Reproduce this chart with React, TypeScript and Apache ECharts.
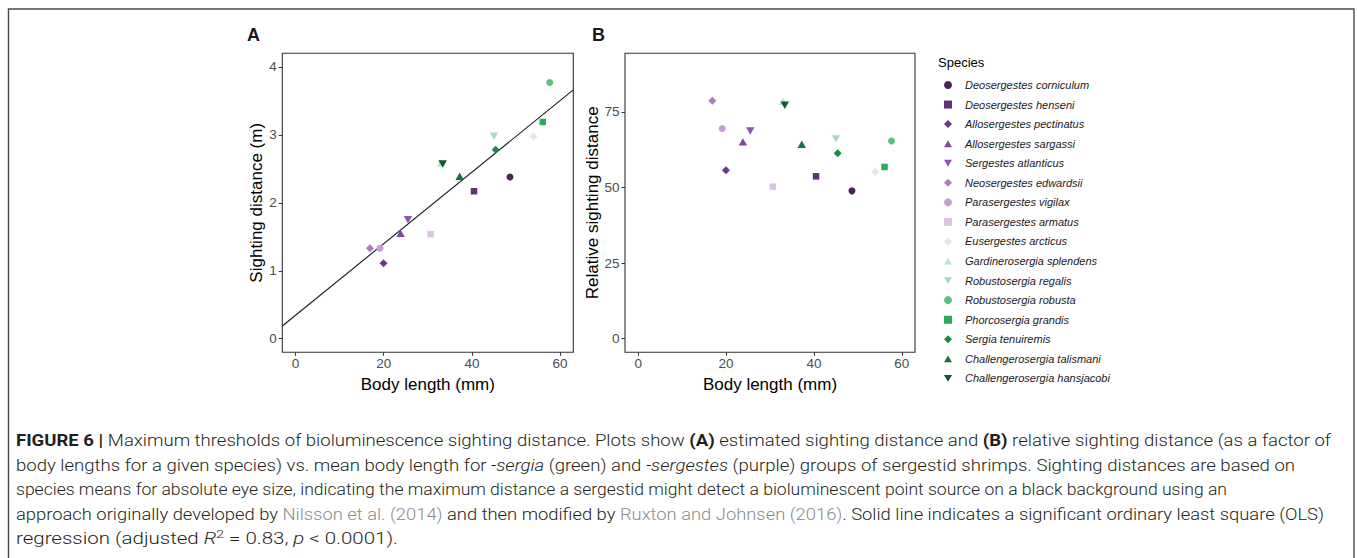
import React, { useEffect, useRef } from "react";
import * as echarts from "echarts";

// ---------- data ----------
const species = [
  "Deosergestes corniculum",
  "Deosergestes henseni",
  "Allosergestes pectinatus",
  "Allosergestes sargassi",
  "Sergestes atlanticus",
  "Neosergestes edwardsii",
  "Parasergestes vigilax",
  "Parasergestes armatus",
  "Eusergestes arcticus",
  "Gardinerosergia splendens",
  "Robustosergia regalis",
  "Robustosergia robusta",
  "Phorcosergia grandis",
  "Sergia tenuiremis",
  "Challengerosergia talismani",
  "Challengerosergia hansjacobi",
];
const bodyLength = [48.65, 40.48, 19.97, 23.83, 25.5, 16.87, 19.14, 30.64, 54.0, 32.99, 45.0, 57.65, 56.07, 45.4, 37.23, 33.37];
const sightingDistance = [2.38, 2.17, 1.11, 1.55, 1.75, 1.33, 1.33, 1.54, 2.98, 2.59, 2.98, 3.77, 3.19, 2.78, 2.39, 2.57];
const relativeDistance = [48.9, 53.7, 55.7, 65.1, 68.7, 78.7, 69.5, 50.3, 55.2, 78.5, 66.1, 65.4, 56.8, 61.3, 64.3, 77.2];
const speciesColors = [
  "#4a2359", "#5e3273", "#6d3889", "#8048a3", "#8d57ad", "#ab7dbf", "#c59fcf", "#dcc5e3",
  "#ede1f0", "#bde5c9", "#a9dbb9", "#5cbf82", "#27ad5f", "#1d8a48", "#1a723e", "#12592e",
];
const speciesShapes = [
  "circle", "square", "diamond", "up", "down", "diamond", "circle", "square",
  "diamond", "up", "down", "circle", "square", "diamond", "up", "down",
];
const xTicks = [0, 20, 40, 60];
const yTicksA = [0, 1, 2, 3, 4];
const yTicksB = [0, 25, 50, 75];

const captionLines = [
  [
    { t: "FIGURE 6 | ", b: true },
    { t: "Maximum thresholds of bioluminescence sighting distance. Plots show " },
    { t: "(A)", b: true },
    { t: " estimated sighting distance and " },
    { t: "(B)", b: true },
    { t: " relative sighting distance (as a factor of" },
  ],
  [
    { t: "body lengths for a given species) vs. mean body length for " },
    { t: "-sergia", i: true },
    { t: " (green) and " },
    { t: "-sergestes", i: true },
    { t: " (purple) groups of sergestid shrimps. Sighting distances are based on" },
  ],
  [
    { t: "species means for absolute eye size, indicating the maximum distance a sergestid might detect a bioluminescent point source on a black background using an" },
  ],
  [
    { t: "approach originally developed by " },
    { t: "Nilsson et al. (2014)", g: true },
    { t: " and then modified by " },
    { t: "Ruxton and Johnsen (2016)", g: true },
    { t: ". Solid line indicates a significant ordinary least square (OLS)" },
  ],
  [
    { t: "regression (adjusted " },
    { t: "R", i: true },
    { t: "2", sup: true },
    { t: " = 0.83, " },
    { t: "p", i: true },
    { t: " < 0.0001)." },
  ],
];

// ---------- layout ----------
const W = 1357;
const H = 558;
const FONT = "Liberation Sans, Arial, Helvetica, sans-serif";
const gridA = { left: 282.3, top: 53.3, width: 291, height: 299 };
const gridB = { left: 625, top: 53.3, width: 290, height: 299 };
const captionX = 16;
const captionBaselines = [446, 470.5, 495, 519.5, 544];
const captionRight = [1331, 1295, 1227, 1324, 398];

const DOWN_TRI = "path://M0,0L2,0L1,1.732Z";
const UP_TRI = "path://M1,0L2,1.732L0,1.732Z";

function symbolOf(s: string) {
  if (s === "circle") return "circle";
  if (s === "square") return "rect";
  if (s === "diamond") return "diamond";
  if (s === "up") return UP_TRI;
  return DOWN_TRI;
}
function sizeOf(s: string): any {
  if (s === "circle") return 7;
  if (s === "square") return 6.5;
  if (s === "diamond") return 8;
  return [8.5, 7.4];
}

function ols(xs: number[], ys: number[]) {
  const n = xs.length;
  const mx = xs.reduce((a, b) => a + b, 0) / n;
  const my = ys.reduce((a, b) => a + b, 0) / n;
  let sxy = 0;
  let sxx = 0;
  for (let i = 0; i < n; i++) {
    sxy += (xs[i] - mx) * (ys[i] - my);
    sxx += (xs[i] - mx) * (xs[i] - mx);
  }
  const slope = sxy / sxx;
  return { slope, intercept: my - slope * mx };
}

function makeX(gridIndex: number) {
  return {
    type: "value",
    gridIndex,
    min: -3,
    max: 63,
    axisLine: { show: false, onZero: false },
    axisTick: { show: true, length: 3.5, lineStyle: { color: "#333333", width: 1 }, customValues: xTicks },
    axisLabel: { customValues: xTicks, color: "#4d4d4d", fontSize: 13.5, margin: 4.5, fontFamily: FONT },
    splitLine: { show: false },
    name: "Body length (mm)",
    nameLocation: "middle",
    nameGap: 19.5,
    nameTextStyle: { fontSize: 17, color: "#000000", fontFamily: FONT },
  };
}
function makeY(gridIndex: number, min: number, max: number, ticks: number[], name: string, nameGap: number) {
  return {
    type: "value",
    gridIndex,
    min,
    max,
    axisLine: { show: false, onZero: false },
    axisTick: { show: true, length: 3.5, lineStyle: { color: "#333333", width: 1 }, customValues: ticks },
    axisLabel: { customValues: ticks, color: "#4d4d4d", fontSize: 13.5, margin: 5.5, fontFamily: FONT },
    splitLine: { show: false },
    name,
    nameLocation: "middle",
    nameGap,
    nameTextStyle: { fontSize: 17, color: "#000000", fontFamily: FONT },
  };
}

export default function App() {
  const ref = useRef<HTMLDivElement>(null);

  useEffect(() => {
    if (!ref.current) return;
    const chart = echarts.init(ref.current, undefined, { renderer: "svg" });
    const fit = ols(bodyLength, sightingDistance);
    const series: any[] = [
      {
        type: "line",
        name: "OLS",
        xAxisIndex: 0,
        yAxisIndex: 0,
        data: [
          [-3, fit.intercept + fit.slope * -3],
          [63, fit.intercept + fit.slope * 63],
        ],
        showSymbol: false,
        symbol: "none",
        lineStyle: { color: "#1a1a1a", width: 1.1 },
        clip: true,
        silent: true,
        z: 1,
      },
    ];
    species.forEach((name, i) => {
      const common = {
        type: "scatter",
        name,
        symbol: symbolOf(speciesShapes[i]),
        symbolSize: sizeOf(speciesShapes[i]),
        itemStyle: { color: speciesColors[i], opacity: 1 },
        z: 3,
      };
      series.push({ ...common, xAxisIndex: 0, yAxisIndex: 0, data: [[bodyLength[i], sightingDistance[i]]] });
      series.push({ ...common, xAxisIndex: 1, yAxisIndex: 1, data: [[bodyLength[i], relativeDistance[i]]] });
    });

    chart.setOption({
      animation: false,
      backgroundColor: "#ffffff",
      textStyle: { fontFamily: FONT },
      grid: [
        { ...gridA, show: true, borderColor: "#333333", borderWidth: 1.1, backgroundColor: "transparent", containLabel: false },
        { ...gridB, show: true, borderColor: "#333333", borderWidth: 1.1, backgroundColor: "transparent", containLabel: false },
      ],
      xAxis: [makeX(0), makeX(1)],
      yAxis: [
        makeY(0, -0.2, 4.2, yTicksA, "Sighting distance (m)", 15.5),
        makeY(1, -4.5, 94.4, yTicksB, "Relative sighting distance", 21),
      ],
      legend: {
        orient: "vertical",
        left: 944,
        top: 79,
        padding: 0,
        itemWidth: 8,
        itemHeight: 8,
        itemGap: 7.56,
        selectedMode: false,
        data: species.map((name, i) => ({ name, icon: symbolOf(speciesShapes[i]), itemStyle: { color: speciesColors[i] } })),
        textStyle: {
          fontSize: 11,
          lineHeight: 12,
          fontStyle: "italic",
          color: "#1a1a1a",
          fontFamily: FONT,
          padding: [0, 0, 0, 8],
        },
      },
      graphic: [
        { type: "text", left: 247, top: 26, style: { text: "A", font: `bold 18px ${FONT}`, fill: "#1a1a1a" } },
        { type: "text", left: 592, top: 26, style: { text: "B", font: `bold 18px ${FONT}`, fill: "#1a1a1a" } },
        { type: "text", left: 938, top: 56, style: { text: "Species", font: `13px ${FONT}`, fill: "#000000" } },
      ],
      series,
    });
    return () => chart.dispose();
  }, []);

  return (
    <div style={{ position: "absolute", left: 0, top: 0, width: W, height: H, background: "#fff" }}>
      <div ref={ref} style={{ position: "absolute", left: 0, top: 0, width: W, height: H }} />
      <svg
        width={W}
        height={H}
        style={{ position: "absolute", left: 0, top: 0, pointerEvents: "none" }}
      >
        <polyline points={`8.5,${H} 8.5,9 1354,9 1354,${H}`} fill="none" stroke="#4a4a4a" strokeWidth={1.4} />
        {captionLines.map((segs, li) => (
          <text
            key={li}
            x={captionX}
            y={captionBaselines[li]}
            textLength={captionRight[li] - captionX}
            lengthAdjust="spacingAndGlyphs"
            fontFamily="Roboto, Liberation Sans, sans-serif"
            fontSize={16}
            fontWeight={300}
            fill="#231f20"
            style={{ whiteSpace: "pre" }}
          >
            {segs.map((s: any, si: number) => {
              const prevSup = si > 0 && (segs[si - 1] as any).sup;
              return (
                <tspan
                  key={si}
                  fontWeight={s.b ? 700 : 300}
                  fontStyle={s.i ? "italic" : "normal"}
                  fill={s.g ? "#8c8c8c" : "#231f20"}
                  fontSize={s.sup ? 11 : 16}
                  dy={s.sup ? -6 : prevSup ? 6 : 0}
                >
                  {s.t}
                </tspan>
              );
            })}
          </text>
        ))}
      </svg>
    </div>
  );
}
